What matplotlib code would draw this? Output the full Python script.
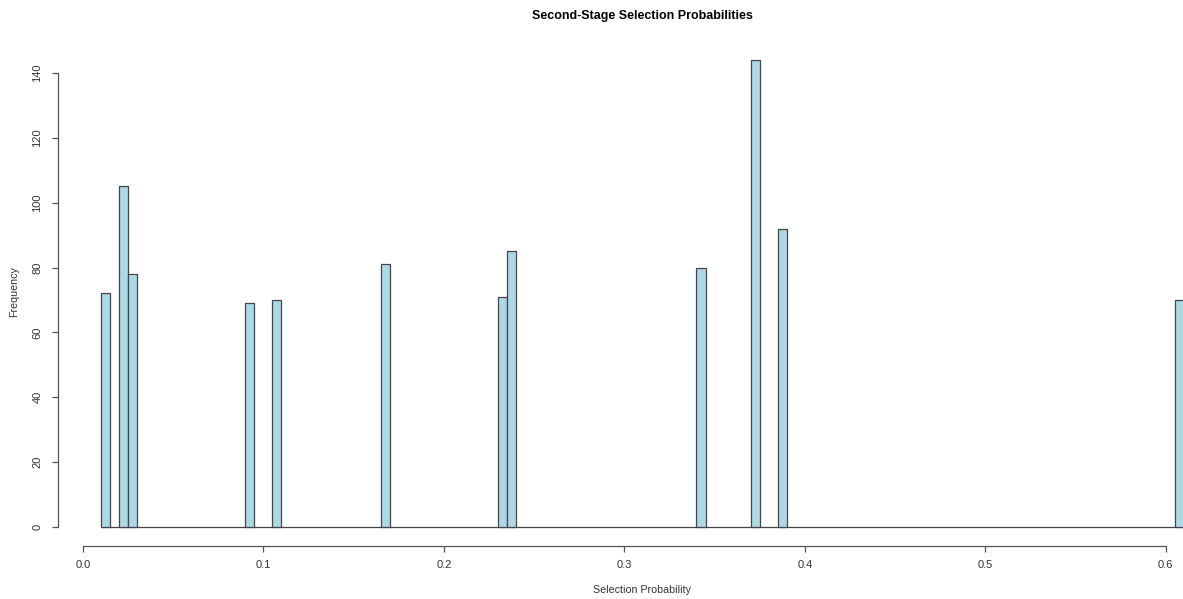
import matplotlib
matplotlib.use("Agg")
import matplotlib.pyplot as plt
import numpy as np

# Data (bin width 0.005)
bin_left = [0.010, 0.020, 0.025, 0.090, 0.105, 0.165, 0.230, 0.235, 0.340, 0.370, 0.385, 0.605]
counts = [72, 105, 78, 69, 70, 81, 71, 85, 80, 144, 92, 70]
bin_width = 0.005
break_start = 0.01
break_end = 0.61
x_ticks = [0.0, 0.1, 0.2, 0.3, 0.4, 0.5, 0.6]
x_tick_labels = ["0.0", "0.1", "0.2", "0.3", "0.4", "0.5", "0.6"]
y_ticks = [0, 20, 40, 60, 80, 100, 120, 140]

plt.rcParams['font.family'] = ['Liberation Sans', 'DejaVu Sans']

W, H = 1183, 599
fig = plt.figure(figsize=(W / 100, H / 100), dpi=100)
left_px, right_px = 57.7, 1227.0
top_px, bot_px = 41.3, 545.7
ax = fig.add_axes([left_px / W, 1 - bot_px / H, (right_px - left_px) / W, (bot_px - top_px) / H])

ax.bar(bin_left, counts, width=bin_width, align='edge', color='#ADD8E6',
       edgecolor='#454545', linewidth=0.9, zorder=2)
ax.hlines(0, break_start, break_end, color='#454545', linewidth=0.9, zorder=1)

xr = break_end - break_start
ax.set_xlim(break_start - 0.04 * xr, break_end + 0.04 * xr)
ymax = max(counts)
ax.set_ylim(-0.04 * ymax, ymax * 1.04)

for s in ['top', 'right']:
    ax.spines[s].set_visible(False)
ax.spines['left'].set_bounds(0, 140)
ax.spines['bottom'].set_bounds(0.0, 0.6)
for s in ['left', 'bottom']:
    ax.spines[s].set_color('#555555')
    ax.spines[s].set_linewidth(0.9)

ax.set_xticks(x_ticks)
ax.set_xticklabels(x_tick_labels)
ax.set_yticks(y_ticks)
ax.set_yticklabels([str(v) for v in y_ticks], rotation=90, va='center')
ax.tick_params(axis='both', length=4.5, width=0.9, color='#555555', labelsize=8, labelcolor='#333333')
ax.tick_params(axis='x', pad=6)
ax.tick_params(axis='y', pad=6.5)

fig.text(642 / W, 1 - 16 / H, "Second-Stage Selection Probabilities", ha='center', va='center',
         fontsize=9, fontweight='bold', color='black')
fig.text(642 / W, 1 - 590 / H, "Selection Probability", ha='center', va='center', fontsize=7.7, color='#333333')
fig.text(14 / W, 1 - 292 / H, "Frequency", ha='center', va='center', rotation=90, fontsize=7.7, color='#333333')

fig.savefig("out.png", dpi=100)
